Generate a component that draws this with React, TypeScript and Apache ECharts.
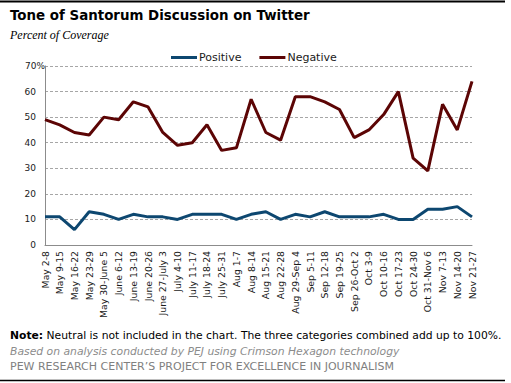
import React, { useEffect, useRef } from "react";
import * as echarts from "echarts";

const categories = [
  "May 2-8", "May 9-15", "May 16-22", "May 23-29", "May 30-June 5",
  "June 6-12", "June 13-19", "June 20-26", "June 27-July 3", "July 4-10",
  "July 11-17", "July 18-24", "July 25-31", "Aug 1-7", "Aug 8-14",
  "Aug 15-21", "Aug 22-28", "Aug 29-Sep 4", "Sep 5-11", "Sep 12-18",
  "Sep 19-25", "Sep 26-Oct 2", "Oct 3-9", "Oct 10-16", "Oct 17-23",
  "Oct 24-30", "Oct 31-Nov 6", "Nov 7-13", "Nov 14-20", "Nov 21-27",
];

const positive = [11, 11, 6, 13, 12, 10, 12, 11, 11, 10, 12, 12, 12, 10, 12, 13, 10, 12, 11, 13, 11, 11, 11, 12, 10, 10, 14, 14, 15, 11];
const negative = [49, 47, 44, 43, 50, 49, 56, 54, 44, 39, 40, 47, 37, 38, 57, 44, 41, 58, 58, 56, 53, 42, 45, 51, 60, 34, 29, 55, 45, 64];

const yTicks = [0, 10, 20, 30, 40, 50, 60, 70];

const FONT = "'DejaVu Sans', Verdana, sans-serif";

export default function App() {
  const ref = useRef<HTMLDivElement>(null);
  useEffect(() => {
    if (!ref.current) return;
    const chart = echarts.init(ref.current, null, { renderer: "svg" });
    const topTick = yTicks[yTicks.length - 1];
    chart.setOption({
      animation: false,
      backgroundColor: "#ffffff",
      grid: { left: 45, right: 39, top: 66, bottom: 138, containLabel: false },
      legend: {
        top: 47,
        left: 166,
        itemWidth: 26,
        itemHeight: 3,
        itemGap: 18,
        icon: "rect",
        textStyle: { fontFamily: FONT, fontSize: 11, color: "#1a1a1a", padding: [0, 0, 0, -3] },
        data: ["Positive", "Negative"],
      },
      xAxis: {
        type: "category",
        data: categories,
        boundaryGap: false,
        axisLine: { lineStyle: { color: "#8c8c8c", width: 1 } },
        axisTick: { show: false },
        axisLabel: {
          rotate: 90,
          interval: 0,
          margin: 6,
          fontFamily: FONT,
          fontSize: 9.3,
          color: "#1a1a1a",
        },
      },
      yAxis: {
        type: "value",
        min: yTicks[0],
        max: topTick,
        interval: 10,
        axisLine: { show: true, lineStyle: { color: "#8c8c8c", width: 1 } },
        axisTick: { show: false },
        axisLabel: {
          margin: 9,
          fontFamily: FONT,
          fontSize: 9,
          color: "#1a1a1a",
          formatter: (v: number) => (v === topTick ? `{t|${v}%}` : `${v}`),
          rich: {
            t: { fontFamily: FONT, fontSize: 9, color: "#1a1a1a", padding: [0, -9, 0, 0] },
          },
        },
        splitLine: { lineStyle: { color: "#a6a6a6", type: [3, 2], width: 1 } },
      },
      series: [
        {
          name: "Positive",
          type: "line",
          data: positive,
          symbol: "none",
          lineStyle: { color: "#0d4770", width: 3 },
          itemStyle: { color: "#0d4770" },
        },
        {
          name: "Negative",
          type: "line",
          data: negative,
          symbol: "none",
          lineStyle: { color: "#5c0505", width: 3 },
          itemStyle: { color: "#5c0505" },
        },
      ],
      graphic: [
        { type: "line", shape: { x1: 0, y1: 1.5, x2: 505, y2: 1.5 }, style: { stroke: "#000", lineWidth: 2 } },
        { type: "line", shape: { x1: 0, y1: 380.5, x2: 505, y2: 380.5 }, style: { stroke: "#000", lineWidth: 1.5 } },
        {
          type: "text", left: 10, top: 9,
          style: { text: "Tone of Santorum Discussion on Twitter", font: `bold 13.4px ${FONT}`, fill: "#000" },
        },
        {
          type: "text", left: 10, top: 29,
          style: { text: "Percent of Coverage", font: `italic 12px 'Liberation Serif', serif`, fill: "#000" },
        },
        {
          type: "text", left: 10, top: 330,
          style: {
            text: "{b|Note:} Neutral is not included in the chart. The three categories combined add up to 100%.",
            font: `10.75px ${FONT}`,
            fill: "#000",
            rich: { b: { fontWeight: "bold", fontFamily: FONT, fontSize: 10.75, fill: "#000" } },
          },
        },
        {
          type: "text", left: 10, top: 346,
          style: { text: "Based on analysis conducted by PEJ using Crimson Hexagon technology", font: `italic 10.8px ${FONT}`, fill: "#8c8c8c" },
        },
        {
          type: "text", left: 10, top: 361,
          style: { text: "PEW RESEARCH CENTER\u2019S PROJECT FOR EXCELLENCE IN JOURNALISM", font: `11px ${FONT}`, fill: "#808080" },
        },
      ],
    });
    return () => chart.dispose();
  }, []);
  return <div ref={ref} style={{ width: 511, height: 383, position: "absolute", left: 0, top: 0 }} />;
}
